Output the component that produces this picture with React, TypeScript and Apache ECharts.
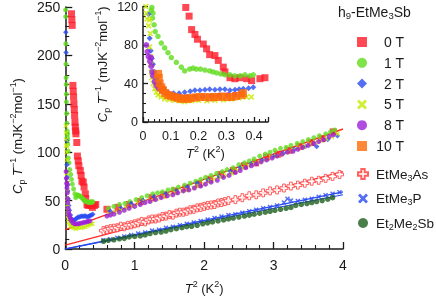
import React, { useEffect, useRef } from 'react';
import * as echarts from 'echarts';

// ---------- data (T^2 in K^2, CpT^-1 in mJ K^-2 mol^-1) ----------
const lowT0 = [[0.09,243],[0.095,237],[0.1,231],[0.11,169],[0.115,163],[0.12,157],[0.125,150],[0.13,144],[0.135,138],[0.14,131],[0.145,126],[0.15,122],[0.154,119],[0.166,110],[0.175,96],[0.187,91],[0.196,86],[0.217,81],[0.229,76],[0.24,70],[0.259,69],[0.271,64],[0.289,57],[0.295,52],[0.313,46],[0.331,45],[0.349,46],[0.373,45],[0.391,43],[0.421,45],[0.439,46]];
const lowT1 = [[0.004,247],[0.006,240],[0.008,212],[0.01,191],[0.012,177],[0.013,170],[0.015,160],[0.017,152],[0.02,140],[0.024,130],[0.028,122],[0.03,116],[0.032,119],[0.034,108],[0.036,113],[0.04,101],[0.044,94],[0.054,89],[0.066,82],[0.078,77],[0.09,72],[0.102,67],[0.12,62],[0.138,57],[0.15,53],[0.168,55],[0.18,56],[0.192,55],[0.207,55],[0.223,54],[0.24,53],[0.252,52],[0.265,51],[0.28,50],[0.295,49],[0.313,49],[0.331,48],[0.35,48],[0.367,49],[0.385,48],[0.397,49]];
const lowT2 = [[0.008,224],[0.012,203],[0.02,112],[0.024,87],[0.028,74],[0.032,66],[0.036,60],[0.042,52],[0.05,45],[0.06,40],[0.075,35],[0.09,31],[0.11,30],[0.13,30],[0.15,31],[0.17,32],[0.187,33],[0.205,33],[0.223,33.5],[0.24,34],[0.259,33.5],[0.277,34],[0.295,34],[0.313,33],[0.331,33.5],[0.346,34],[0.361,34.5],[0.38,35],[0.397,36]];
const lowT5 = [[0.008,127],[0.01,120],[0.012,113],[0.015,107],[0.02,100],[0.024,106],[0.026,92],[0.024,78],[0.027,68],[0.028,60],[0.03,52],[0.032,46],[0.037,40],[0.042,34.5],[0.048,31],[0.054,28],[0.065,26],[0.078,24],[0.095,23],[0.114,22.5],[0.13,22],[0.15,21],[0.175,22],[0.2,22.5],[0.23,22],[0.259,22.5],[0.29,23],[0.319,24],[0.345,25],[0.373,26],[0.39,26]];
const lowT8 = [[0.012,80],[0.016,73],[0.02,68],[0.025,63],[0.029,67],[0.03,58],[0.033,52],[0.036,48],[0.042,42],[0.048,38],[0.056,35],[0.066,33],[0.078,31],[0.09,29],[0.11,27],[0.138,26],[0.16,26],[0.187,26],[0.215,26.5],[0.247,27],[0.275,27.5],[0.307,28],[0.33,28.5],[0.355,29]];
const lowT10 = [[0.054,50],[0.057,46],[0.06,40],[0.066,36],[0.072,33],[0.08,30],[0.09,28],[0.1,27],[0.114,26],[0.125,25],[0.138,24],[0.15,24.5],[0.162,24],[0.174,25],[0.19,25.5],[0.205,26],[0.223,26],[0.24,25.5],[0.255,26],[0.271,26],[0.287,26.5],[0.303,26],[0.319,26],[0.335,27],[0.355,28],[0.36,30]];

const highT0 = [[0.6,41],[0.76,43],[0.92,46],[1.08,49],[1.25,53],[1.42,56],[1.58,60],[1.74,63],[1.92,67],[2.08,72],[2.24,77],[2.42,81],[2.58,86],[2.74,89],[2.9,95],[3.06,98],[3.22,102],[3.38,106],[3.54,110],[3.7,114],[3.86,121]];
const highT1 = [[0.62,42],[0.7,44],[0.78,46],[0.86,47],[0.93,49],[1.02,51],[1.1,53],[1.18,55],[1.26,57],[1.33,58],[1.4,59],[1.48,61],[1.55,62],[1.63,64],[1.72,66],[1.8,68],[1.88,70],[1.95,72],[2.02,74],[2.1,76],[2.18,78],[2.26,80],[2.33,82],[2.42,84],[2.5,87],[2.58,89],[2.65,91],[2.72,93],[2.8,96],[2.88,98],[2.95,100],[3.02,102],[3.1,104],[3.18,105],[3.25,107],[3.34,109],[3.42,111],[3.5,113],[3.58,115],[3.66,117],[3.75,119],[3.82,121],[3.88,123]];
const highT2 = [[0.65,39],[0.8,42],[0.95,47],[1.12,50],[1.28,54],[1.45,57],[1.6,60],[1.76,64],[1.9,68],[2.06,71],[2.22,75],[2.38,80],[2.52,84],[2.68,88],[2.84,92],[3.0,96],[3.14,99],[3.3,103],[3.46,106],[3.62,106],[3.78,113],[3.92,117]];
const highT5 = [[0.63,36],[0.72,38],[0.8,40],[0.88,42],[0.97,44],[1.05,47],[1.14,49],[1.23,50],[1.32,52],[1.41,54],[1.5,56],[1.59,58],[1.68,60],[1.76,61],[1.85,63],[1.92,65],[2.0,67],[2.08,70],[2.15,72],[2.24,74],[2.32,76],[2.4,78],[2.48,81],[2.56,84],[2.64,86],[2.72,88],[2.8,90],[2.88,92],[2.96,95],[3.04,96],[3.12,98],[3.2,100],[3.28,102],[3.36,104],[3.44,106],[3.52,108],[3.6,110],[3.68,112],[3.76,114],[3.84,116],[3.92,119]];
const highT8 = [[0.6,34],[0.65,35],[0.7,36],[0.78,38],[0.85,40],[0.92,42],[1.0,44],[1.08,46],[1.15,48],[1.22,49],[1.3,51],[1.38,53],[1.47,55],[1.55,56],[1.62,58],[1.7,60],[1.78,61],[1.86,63],[1.95,65],[2.02,67],[2.1,69],[2.19,71],[2.28,74],[2.36,76],[2.45,79],[2.52,81],[2.6,84],[2.68,86],[2.75,88],[2.82,90],[2.9,92],[2.98,94],[3.05,96],[3.12,98],[3.2,100],[3.28,101],[3.35,103],[3.42,105],[3.5,107],[3.58,109],[3.65,111],[3.72,113],[3.8,116],[3.86,118]];

const etMe3As = [[0.55,19],[0.6,20],[0.65,21],[0.7,21.5],[0.75,22],[0.8,23.5],[0.85,23],[0.9,24.5],[0.95,25],[1.0,26],[1.05,27],[1.1,28.5],[1.15,28],[1.2,30],[1.25,31],[1.3,31],[1.35,32],[1.4,33.5],[1.45,34],[1.5,35.5],[1.55,35],[1.6,37],[1.65,38],[1.7,38],[1.75,39],[1.8,40.5],[1.85,41],[1.9,42.5],[1.95,43],[2.0,44],[2.05,45],[2.1,45.5],[2.15,46],[2.2,47.5],[2.25,48],[2.3,49],[2.35,50],[2.45,51],[2.55,53],[2.65,55],[2.75,56],[2.85,58],[2.95,60],[3.05,61],[3.15,63],[3.25,65],[3.35,66],[3.45,68],[3.55,70],[3.65,71],[3.75,73],[3.85,75],[3.95,77]];
const etMe3P = [[0.55,9],[0.65,10],[0.75,11.5],[0.85,13],[0.95,14.5],[1.05,16],[1.15,17],[1.25,19],[1.35,20],[1.45,22],[1.55,23],[1.65,24.5],[1.75,26],[1.85,27.5],[1.95,29],[2.05,30.5],[2.15,32],[2.25,33.5],[2.35,35],[2.45,36],[2.55,37.5],[2.65,39],[2.75,40.5],[2.85,42],[2.95,43.5],[3.05,45],[3.15,48],[3.2,52],[3.25,50],[3.35,49.5],[3.45,51],[3.55,52],[3.65,54],[3.75,55.5],[3.85,57],[3.95,58.5]];
const et2Me2Sb = [[0.55,8],[0.62,9],[0.7,9.5],[0.78,10.5],[0.85,11],[0.92,12.5],[1.0,13],[1.08,13.5],[1.15,14.5],[1.22,16],[1.3,17],[1.38,17.5],[1.45,18.5],[1.52,20],[1.6,21],[1.68,22],[1.75,23],[1.82,23.5],[1.9,24.5],[1.98,26],[2.05,27],[2.12,28],[2.2,29],[2.28,30],[2.35,31],[2.42,32],[2.5,33],[2.58,34],[2.65,35],[2.72,36],[2.8,37],[2.88,38],[2.95,39],[3.02,40],[3.1,41],[3.18,42],[3.25,43],[3.32,45],[3.4,46],[3.48,47],[3.55,48],[3.62,49],[3.7,50],[3.78,51.5],[3.85,53]];

const fitH9 = [[0,20],[4,124]];
const fitAs = [[0,4],[4,80]];
const fitP = [[0,0],[4,59]];
const fitSb = [[0,0],[4,56]];

const fieldNames = ['0 T', '1 T', '2 T', '5 T', '8 T', '10 T'];
const refNames = ['EtMe3As', 'EtMe3P', 'Et2Me2Sb'];
const refLabels = ['EtMe{s|3}As', 'EtMe{s|3}P', 'Et{s|2}Me{s|2}Sb'];
const mainXTicks = { min: 0, max: 4, interval: 1 };
const mainYTicks = { min: 0, max: 250, interval: 50 };
const insetXTicks = { min: 0, max: 0.45, interval: 0.1 };
const insetYTicks = { min: 0, max: 120, interval: 40 };

// ---------- styling ----------
const FONT = 'Liberation Sans, Arial, Helvetica, sans-serif';
const INK = '#1a1a1a';
const X_PATH = 'path://M0,2 L2,0 L5,3 L8,0 L10,2 L7,5 L10,8 L8,10 L5,7 L2,10 L0,8 L3,5 Z';
const PLUS_PATH = 'path://M3.3,0 H6.7 V3.3 H10 V6.7 H6.7 V10 H3.3 V6.7 H0 V3.3 H3.3 Z';

const fieldStyle = [
  { symbol: 'rect', color: '#fe1a28', main: 7, inset: 7 },
  { symbol: 'circle', color: '#5fdc1c', main: 5, inset: 5.5 },
  { symbol: 'diamond', color: '#2a4bf0', main: 5.5, inset: 6 },
  { symbol: X_PATH, color: '#c6ea00', main: 5, inset: 6 },
  { symbol: 'circle', color: '#9c1fd8', main: 5, inset: 6 },
  { symbol: 'rect', color: '#ff6a06', main: 7, inset: 8 },
];

const fieldLow = [lowT0, lowT1, lowT2, lowT5, lowT8, lowT10];
const fieldHigh = [highT0, highT1, highT2, highT5, highT8, []];

const nameRich = {
  i: { fontStyle: 'italic', fontSize: 13, fontFamily: FONT, color: INK, lineHeight: 18 },
  sub: { fontSize: 9, fontFamily: FONT, color: INK, verticalAlign: 'bottom', lineHeight: 18 },
  sup: { fontSize: 9, fontFamily: FONT, color: INK, verticalAlign: 'top', lineHeight: 18 },
};
const yName = '{i|C}{sub|p} {i|T}{sup|−1} (mJK{sup|−2}mol{sup|−1})';
const xName = '{i|T}{sup|2} (K{sup|2})';

function axisBase(extra: any, big: boolean) {
  return {
    type: 'value',
    splitLine: { show: false },
    axisLine: { show: true, onZero: false, lineStyle: { color: INK, width: 1.5 } },
    axisTick: { show: true, inside: true, length: big ? 7 : 5, lineStyle: { color: INK, width: 1.3 } },
    minorTick: { show: true, splitNumber: 5, length: big ? 4 : 3, lineStyle: { color: INK, width: 1.1 } },
    nameLocation: 'middle',
    nameTextStyle: { fontSize: 13, fontFamily: FONT, color: INK, lineHeight: 18, rich: nameRich },
    ...extra,
  };
}

export default function App() {
  const ref = useRef<HTMLDivElement>(null);
  useEffect(() => {
    if (!ref.current) return;
    const chart = echarts.init(ref.current, null, { renderer: 'svg' });
    const series: any[] = [];
    const line = (data: number[][], color: string, width: number, grid: number) => ({
      type: 'line', data, xAxisIndex: grid, yAxisIndex: grid, showSymbol: false, symbol: 'none',
      lineStyle: { color, width }, silent: true, z: 1,
    });
    series.push(line(fitH9, '#ff2a2a', 1.4, 0));
    series.push(line(fitAs, '#ff2a2a', 1.4, 0));
    series.push(line(fitP, '#2a4bf0', 1.3, 0));
    series.push(line(fitSb, '#2a4bf0', 1.1, 0));

    series.push({ type: 'scatter', name: refNames[0], data: etMe3As, xAxisIndex: 0, yAxisIndex: 0,
      symbol: PLUS_PATH, symbolSize: 8, itemStyle: { color: '#ffffff', borderColor: '#ff3a3a', borderWidth: 1 }, z: 2 });
    series.push({ type: 'scatter', name: refNames[1], data: etMe3P, xAxisIndex: 0, yAxisIndex: 0,
      symbol: X_PATH, symbolSize: 5, itemStyle: { color: '#2a4bf0' }, z: 2 });
    series.push({ type: 'scatter', name: refNames[2], data: et2Me2Sb, xAxisIndex: 0, yAxisIndex: 0,
      symbol: 'circle', symbolSize: 5.5, itemStyle: { color: '#1d5e1d' }, z: 2 });

    for (let k = 0; k < 5; k++) {
      const st = fieldStyle[k];
      series.push({ type: 'scatter', name: fieldNames[k], data: [...fieldLow[k], ...fieldHigh[k]],
        xAxisIndex: 0, yAxisIndex: 0, symbol: st.symbol, symbolSize: st.main,
        itemStyle: { color: st.color }, z: 3 });
    }
    for (let k = 0; k < 6; k++) {
      const st = fieldStyle[k];
      series.push({ type: 'scatter', name: fieldNames[k], data: fieldLow[k],
        xAxisIndex: 1, yAxisIndex: 1, symbol: st.symbol, symbolSize: st.inset,
        itemStyle: { color: st.color }, clip: true, z: 3 });
    }

    chart.setOption({
      animation: false,
      textStyle: { fontFamily: FONT },
      grid: [
        { left: 64, top: 7, width: 279, height: 245 },
        { left: 143, top: 5, width: 125, height: 117 },
      ],
      xAxis: [
        axisBase({ gridIndex: 0, ...mainXTicks, name: xName, nameGap: 30,
          axisLabel: { fontSize: 14, color: INK, margin: 9, fontFamily: FONT } }, true),
        axisBase({ gridIndex: 1, ...insetXTicks, name: xName, nameGap: 22,
          axisLabel: { fontSize: 12.5, color: INK, margin: 7, fontFamily: FONT, showMaxLabel: false } }, false),
      ],
      yAxis: [
        axisBase({ gridIndex: 0, ...mainYTicks, name: yName, nameGap: 36,
          nameTextStyle: { fontSize: 13, fontFamily: FONT, color: INK, lineHeight: 18, rich: nameRich, padding: [0, 16, 0, 0] },
          axisLabel: { fontSize: 14, color: INK, margin: 5, fontFamily: FONT } }, true),
        axisBase({ gridIndex: 1, ...insetYTicks, name: yName, nameGap: 32,
          minorTick: { show: true, splitNumber: 4, length: 3, lineStyle: { color: INK, width: 1.1 } },
          axisLabel: { fontSize: 12.5, color: INK, margin: 5, fontFamily: FONT } }, false),
      ],
      legend: [
        {
          data: fieldNames, orient: 'vertical', left: 352, top: 29.5, itemWidth: 10, itemHeight: 10,
          itemGap: 5.8, selectedMode: false,
          formatter: (n: string) => `{r|${n}}`,
          textStyle: { fontSize: 14, color: INK, fontFamily: FONT, lineHeight: 15,
            rich: { r: { width: 32, align: 'right', fontSize: 14, color: INK, fontFamily: FONT, lineHeight: 15 } } },
        },
        {
          data: refNames, orient: 'vertical', left: 352, top: 161, itemWidth: 10, itemHeight: 10,
          itemGap: 8.5, selectedMode: false,
          formatter: (n: string) => refLabels[refNames.indexOf(n)],
          textStyle: { fontSize: 13.5, color: INK, fontFamily: FONT, lineHeight: 16, padding: [0, 0, 0, 3],
            rich: { s: { fontSize: 9, color: INK, fontFamily: FONT, verticalAlign: 'bottom', lineHeight: 16 } } },
        },
      ],
      graphic: [
        {
          type: 'text', left: 338, top: 4,
          style: {
            text: 'h{s|9}-EtMe{s|3}Sb', fill: INK, font: `14px ${FONT}`, lineHeight: 16,
            rich: { s: { fontSize: 9.5, fill: INK, fontFamily: FONT, verticalAlign: 'bottom', lineHeight: 16 } },
          },
        },
      ],
      series,
    });
    return () => chart.dispose();
  }, []);
  return <div ref={ref} style={{ position: 'fixed', left: 0, top: 0, width: 436, height: 302 }} />;
}
